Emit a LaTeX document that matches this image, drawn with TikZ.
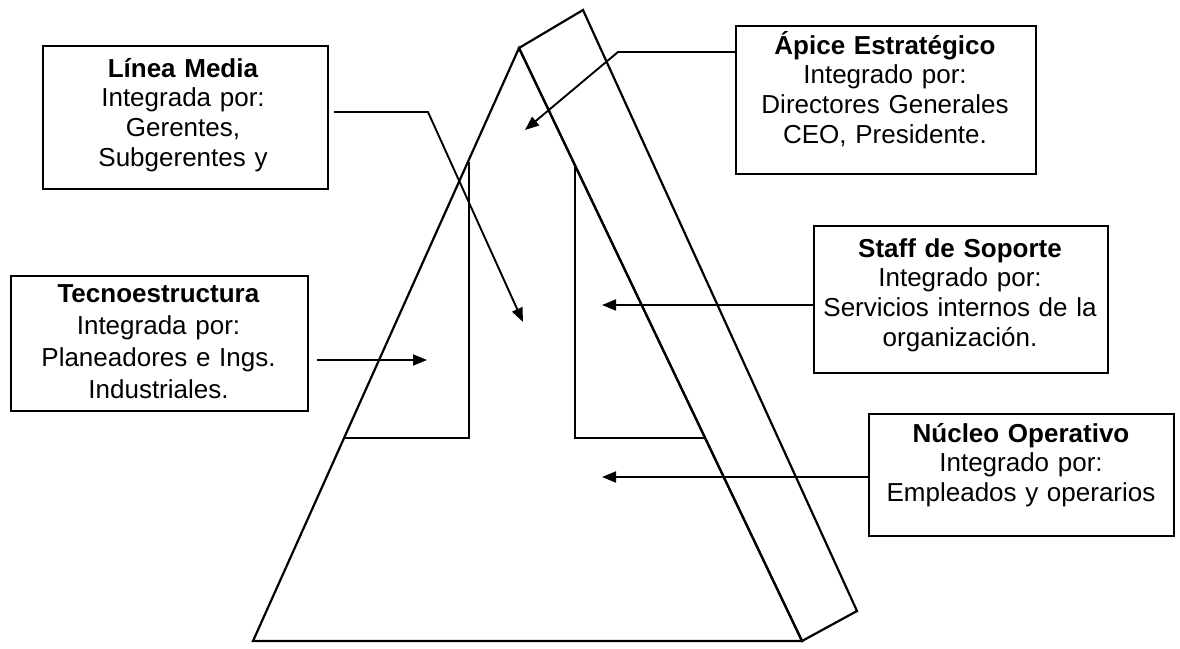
\documentclass[tikz,border=0pt]{standalone}
\usepackage{fontspec}
\setmainfont{Liberation Sans}
\usetikzlibrary{arrows.meta}
\begin{document}
\begin{tikzpicture}[x=1pt,y=-1pt,
  panel/.style={draw, fill=white, line width=2.2pt, anchor=north west, inner sep=0pt},
  boxtext/.style={anchor=base, text width=330pt, align=center, inner sep=0pt,
    font=\fontsize{26}{29.7}\selectfont},
  outline/.style={line width=2.2pt, line join=miter},
  arrowline/.style={line width=1.9pt, -{Triangle[length=14pt,width=11pt]}},
]
\fill[white] (0,0) rectangle (1180,648);
\useasboundingbox (0,0) rectangle (1180,648);

% pyramid and the slanted strip of the strategic apex
\draw[outline] (519,48) -- (253,641) -- (802,641) -- cycle;
\draw[outline] (519,48) -- (583,10) -- (857,611) -- (802,641) -- cycle;
% inner partitions
\draw[outline] (469,162) -- (469,438) -- (344,438);
\draw[outline] (575,165) -- (575,438) -- (705,438);

% text boxes
\node[panel, minimum width=285pt, minimum height=143pt] (lm) at (42,45) {};
\node[boxtext] (lmText) at (183,77) {\textbf{Línea Media}\\Integrada por:\\Gerentes,\\Subgerentes y};

\node[panel, minimum width=300pt, minimum height=148pt] (ap) at (735,25) {};
\node[boxtext] (apText) at (885,54) {\textbf{Ápice Estratégico}\\Integrado por:\\Directores Generales\\CEO, Presidente.};

\node[panel, minimum width=297pt, minimum height=135pt] (te) at (10,275) {};
\node[boxtext, font=\fontsize{26}{32}\selectfont] (teText) at (158.5,302) {\textbf{Tecnoestructura}\\Integrada por:\\Planeadores e Ings.\\Industriales.};

\node[panel, minimum width=294pt, minimum height=147pt] (sf) at (813,225) {};
\node[boxtext] (sfText) at (960,257) {\textbf{Staff de Soporte}\\Integrado por:\\Servicios internos de la\\organización.};

\node[panel, minimum width=305pt, minimum height=122pt] (nu) at (868,413) {};
\node[boxtext] (nuText) at (1021,442) {\textbf{Núcleo Operativo}\\Integrado por:\\Empleados y operarios};

% arrow targets
\coordinate (lmBend) at (428,112);
\coordinate (lmTip) at (523,322);
\coordinate (apBend) at (618,52);
\coordinate (apTip) at (525,130);
\coordinate (teTip) at (427,360);
\coordinate (sfTip) at (602,305);
\coordinate (nuTip) at (602,477);

% connectors
\draw[arrowline, shorten <=5pt] (lmBend -| lm.east) -- (lmBend) -- (lmTip);
\draw[arrowline] (apBend -| ap.west) -- (apBend) -- (apTip);
\draw[arrowline, shorten <=8pt] (teTip -| te.east) -- (teTip);
\draw[arrowline] (sfTip -| sf.west) -- (sfTip);
\draw[arrowline] (nuTip -| nu.west) -- (nuTip);
\end{tikzpicture}
\end{document}
